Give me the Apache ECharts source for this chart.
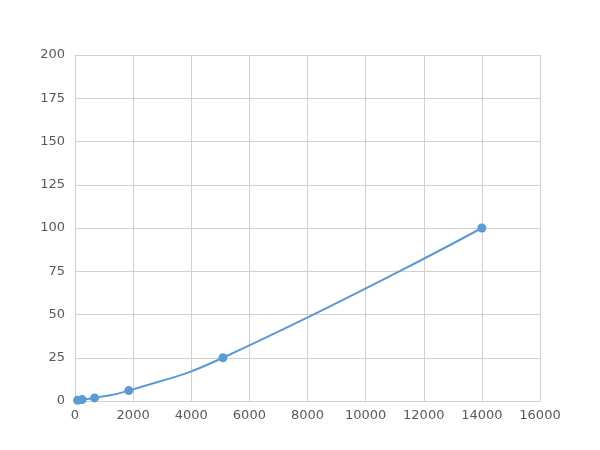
<!DOCTYPE html>
<html>
<head>
<meta charset="utf-8">
<script src="https://cdn.jsdelivr.net/npm/echarts@6/dist/echarts.min.js"></script>
<style>
  html, body { margin: 0; padding: 0; background: #fff; }
  #main { width: 600px; height: 450px; }
</style>
</head>
<body>
<div id="main"></div>
<script>
// standard curve readings
var concentrations = [89, 245, 673, 1851, 5091, 14000];
var responses = [0.4, 0.8, 1.8, 6, 25, 100];

var points = concentrations.map(function (c, i) { return [c, responses[i]]; });

var myChart = echarts.init(document.getElementById('main'));
myChart.setOption({
    animation: false,
    grid: {
        left: 75,
        right: 60,
        top: 55,
        bottom: 49
    },
    xAxis: {
        type: 'value',
        min: 0,
        max: 16000,
        interval: 2000,
        axisLine: { show: true, lineStyle: { color: '#d0d0d0' } },
        axisTick: { show: false },
        axisLabel: {
            color: '#595959', fontSize: 13, fontFamily: 'DejaVu Sans', margin: 8,
            formatter: function (v) { return String(v); }
        },
        splitLine: { show: true, lineStyle: { color: '#d0d0d0' } }
    },
    yAxis: {
        type: 'value',
        min: 0,
        max: 200,
        interval: 25,
        axisLine: { show: true, lineStyle: { color: '#d0d0d0' } },
        axisTick: { show: false },
        axisLabel: { color: '#595959', fontSize: 13, fontFamily: 'DejaVu Sans', margin: 10 },
        splitLine: { show: true, lineStyle: { color: '#d0d0d0' } }
    },
    series: [
        {
            type: 'line',
            data: points,
            smooth: 0.5,
            symbol: 'circle',
            symbolSize: 9,
            lineStyle: { color: '#5b9bd5', width: 2 },
            itemStyle: { color: '#5b9bd5' }
        }
    ]
});
</script>
</body>
</html>
